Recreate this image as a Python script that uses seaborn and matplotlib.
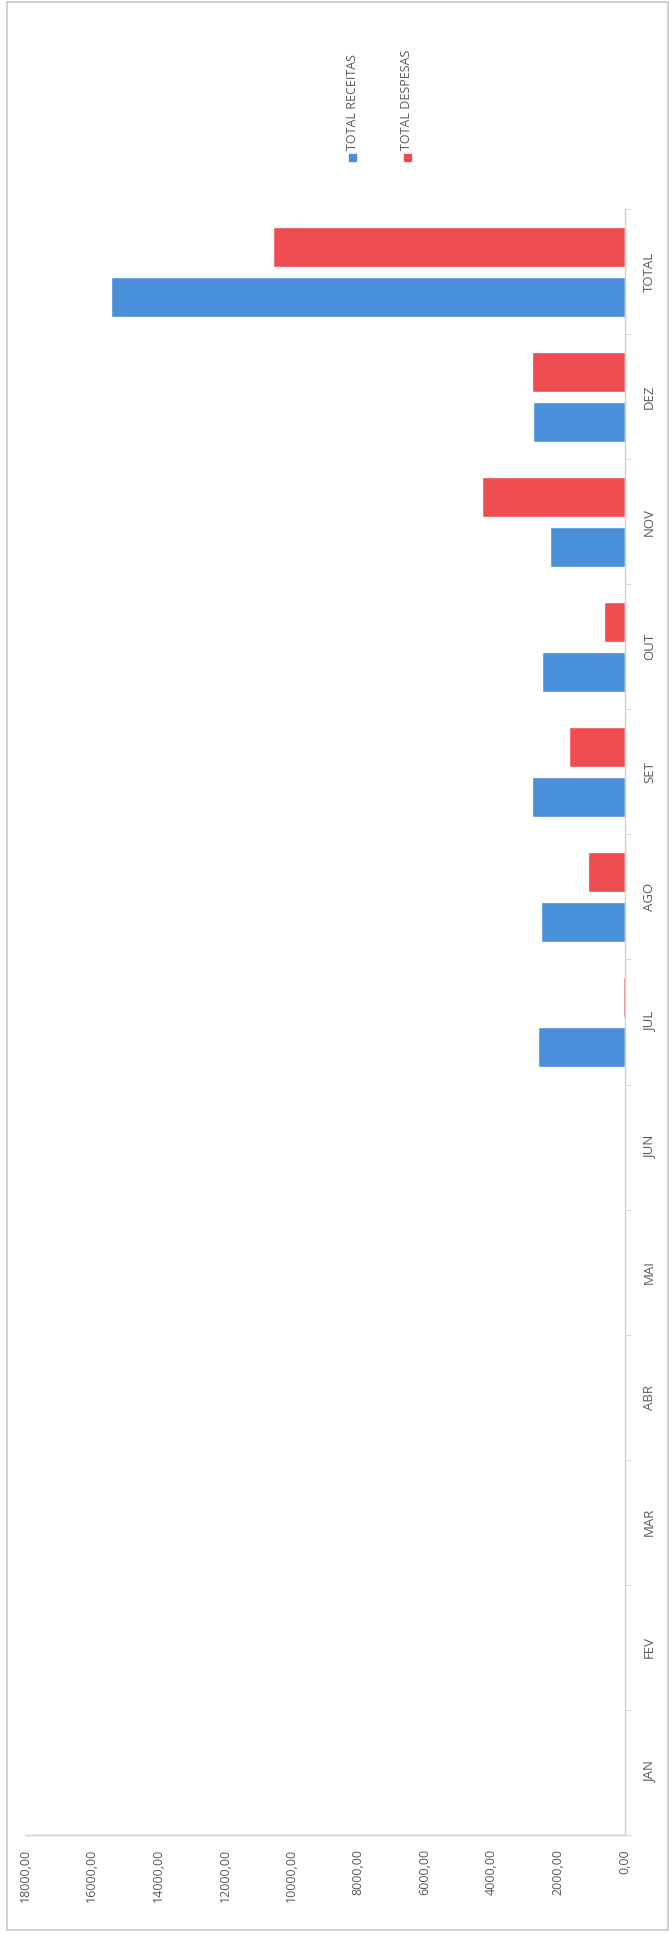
import pandas as pd
import seaborn as sns
import matplotlib.pyplot as plt
from matplotlib.patches import Rectangle
from matplotlib.ticker import FuncFormatter, FixedLocator

# data read from the (rotated) chart
months = ['JAN', 'FEV', 'MAR', 'ABR', 'MAI', 'JUN', 'JUL', 'AGO', 'SET', 'OUT', 'NOV', 'DEZ', 'TOTAL']
receitas = [0, 0, 0, 0, 0, 0, 2610, 2510, 2790, 2490, 2250, 2770, 15420]
despesas = [0, 0, 0, 0, 0, 0, 60, 1120, 1690, 630, 4280, 2780, 10560]
series = ['TOTAL RECEITAS', 'TOTAL DESPESAS']
colors = ['#4a8fd9', '#ee4c50']
value_ticks = [0, 2000, 4000, 6000, 8000, 10000, 12000, 14000, 16000, 18000]

df = pd.DataFrame({
    'mes': months * 2,
    'valor': receitas + despesas,
    'serie': [series[0]] * len(months) + [series[1]] * len(months),
})

sns.set_style("white")
plt.rcParams['font.family'] = ['Open Sans', 'DejaVu Sans']

fig = plt.figure(figsize=(6.69, 19.34), dpi=100)
ax = fig.add_axes([25 / 669, 99 / 1934, 600 / 669, 1626 / 1934])

sns.barplot(data=df, x='valor', y='mes', hue='serie', order=months,
            hue_order=series, palette=colors, orient='h',
            width=0.8, gap=0.2, saturation=1, errorbar=None, ax=ax)

ax.set_ylim(-0.5, len(months) - 0.5)
ax.set_xlim(18000, 0)
ax.legend_.remove()
ax.set_xlabel('')
ax.set_ylabel('')

grey = '#595959'
line = '#d0d0d0'

# value axis (bottom)
ax.xaxis.set_major_locator(FixedLocator(value_ticks))
ax.xaxis.set_major_formatter(FuncFormatter(lambda v, p: f"{v:.2f}".replace('.', ',')))
ax.tick_params(axis='x', labelrotation=90, labelsize=9, labelcolor=grey,
               length=4, color=line, pad=6)

# category axis (right)
ax.yaxis.tick_right()
ax.tick_params(axis='y', which='major', length=0, pad=13, labelsize=9.5, labelcolor=grey)
for lab in ax.get_yticklabels():
    lab.set_rotation(90)
    lab.set_va('center')
ax.yaxis.set_minor_locator(FixedLocator([i + 0.5 for i in range(-1, len(months))]))
ax.tick_params(axis='y', which='minor', length=4, color=line, right=True)

for s in ['left', 'top']:
    ax.spines[s].set_visible(False)
for s in ['right', 'bottom']:
    ax.spines[s].set_color(line)
    ax.spines[s].set_linewidth(1)

# legend, rotated like the rest of the chart
for i, (name, c) in enumerate(zip(series, colors)):
    x = (352 + 55 * i) / 669
    fig.patches.append(Rectangle((x - 3.5 / 669, 1 - 161 / 1934), 7 / 669, 7 / 1934,
                                 transform=fig.transFigure, color=c))
    fig.text(x, 1 - 150 / 1934, name, rotation=90, ha='center', va='bottom',
             fontsize=9, color=grey)

# chart area border
fig.patches.append(Rectangle((7 / 669, 4 / 1934), 1 - 8 / 669, 1 - 6 / 1934,
                             transform=fig.transFigure, fill=False,
                             edgecolor='#c8c8c8', linewidth=1.2))

plt.savefig('out.png', dpi=100)
plt.close()
